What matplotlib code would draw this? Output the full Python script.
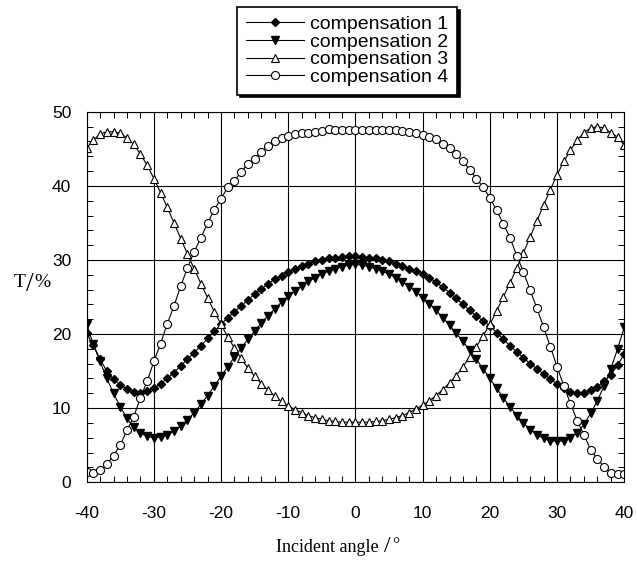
import matplotlib.pyplot as plt
from matplotlib.ticker import MultipleLocator
import numpy as np

# incident angle, one point per degree
angle = list(range(-40, 41))

comp1 = [20.1, 18.5, 16.6, 15.0, 13.9, 13.1, 12.6, 12.2, 12.1, 12.3,
         12.7, 13.3, 14.0, 14.8, 15.7, 16.6, 17.5, 18.4, 19.4, 20.4,
         21.3, 22.2, 23.0, 23.8, 24.6, 25.4, 26.1, 26.8, 27.4, 27.9,
         28.4, 28.8, 29.2, 29.5, 29.8, 30.0, 30.2, 30.3, 30.4, 30.5,
         30.5,
         30.4, 30.3, 30.2, 30.0, 29.8, 29.5, 29.2, 28.8, 28.5,
         28.1, 27.6, 27.0, 26.3, 25.6, 24.8, 24.0, 23.2, 22.4, 21.8,
         21.1, 20.2, 19.3, 18.4, 17.6, 16.8, 16.0, 15.3, 14.6, 13.9,
         13.3, 12.7, 12.2, 12.0, 12.1, 12.4, 12.9, 13.6, 14.5, 15.8,
         17.3]

comp2 = [21.3, 18.6, 16.3, 14.0, 12.0, 10.2, 8.6, 7.4, 6.6, 6.2,
         6.0, 6.1, 6.4, 6.9, 7.6, 8.4, 9.4, 10.5, 11.7, 13.0,
         14.3, 15.6, 16.9, 18.1, 19.3, 20.4, 21.5, 22.5, 23.4, 24.3,
         25.1, 25.8, 26.5, 27.1, 27.6, 28.1, 28.5, 28.8, 29.1, 29.3,
         29.4,
         29.3, 29.1, 28.8, 28.5, 28.1, 27.6, 27.0, 26.4, 25.7,
         24.9, 24.1, 23.2, 22.2, 21.2, 20.1, 19.0, 17.8, 16.6, 15.3,
         14.0, 12.7, 11.4, 10.2, 9.0, 8.0, 7.1, 6.4, 5.9, 5.6,
         5.5, 5.6, 6.0, 6.7, 7.8, 9.3, 11.0, 13.0, 15.3, 18.0,
         20.9]

comp3 = [45.1, 46.2, 47.0, 47.3, 47.3, 47.1, 46.5, 45.6, 44.3, 42.8,
         41.0, 39.1, 37.1, 35.0, 32.9, 30.8, 28.8, 26.8, 24.9, 23.0,
         21.3, 19.6, 18.1, 16.7, 15.4, 14.3, 13.3, 12.4, 11.6, 10.9,
         10.3, 9.8, 9.4, 9.0, 8.7, 8.5, 8.3, 8.2, 8.1, 8.1,
         8.1,
         8.1, 8.1, 8.2, 8.3, 8.5, 8.7, 9.0, 9.4, 9.9,
         10.4, 11.0, 11.7, 12.5, 13.4, 14.4, 15.6, 16.9, 18.3, 19.8,
         21.3, 23.1, 25.0, 26.9, 28.9, 31.0, 33.1, 35.3, 37.4, 39.5,
         41.5, 43.3, 44.8, 46.2, 47.2, 47.8, 48.0, 47.8, 47.2, 46.6,
         45.5]

comp4 = [1.4, 1.25, 1.6, 2.4, 3.6, 5.0, 7.0, 8.8, 11.4, 13.6,
         16.3, 18.7, 21.4, 23.8, 26.5, 28.9, 31.1, 33.0, 35.0, 36.8,
         38.3, 39.8, 40.7, 41.9, 43.0, 43.7, 44.6, 45.4, 46.1, 46.5,
         46.8, 47.0, 47.2, 47.2, 47.3, 47.4, 47.7, 47.5, 47.6, 47.6,
         47.6,
         47.6, 47.5, 47.6, 47.5, 47.5, 47.5, 47.4, 47.3, 47.2,
         46.9, 46.6, 46.3, 45.7, 45.1, 44.3, 43.3, 42.2, 41.0, 39.8,
         38.4, 36.7, 34.9, 33.0, 30.6, 28.4, 25.9, 23.5, 20.9, 18.3,
         15.6, 13.0, 10.6, 8.3, 6.4, 4.4, 3.1, 2.1, 1.25, 1.1,
         1.1]

labels = ['compensation 1', 'compensation 2', 'compensation 3', 'compensation 4']
xticks = list(range(-40, 41, 10))
yticks = list(range(0, 51, 10))

fig = plt.figure(figsize=(6.37, 5.62), dpi=100)
ax = fig.add_axes([0.136, 0.142, 0.844, 0.659])

ax.plot(angle, comp1, '-', color='black', lw=0.8, marker='D', ms=4,
        mfc='black', mec='black', label=labels[0])
ax.plot(angle, comp2, '-', color='black', lw=0.8, marker='v', ms=5.8,
        mfc='black', mec='black', label=labels[1])
ax.plot(angle, comp3, '-', color='black', lw=0.8, marker='^', ms=5.8,
        mfc='white', mec='black', mew=0.8, label=labels[2])
ax.plot(angle, comp4, '-', color='black', lw=0.8, marker='o', ms=5.8,
        mfc='white', mec='black', mew=0.8, label=labels[3])

ax.set_xlim(-40, 40)
ax.set_ylim(0, 50)
ax.xaxis.set_minor_locator(MultipleLocator(2))
ax.yaxis.set_minor_locator(MultipleLocator(2))
ax.set_xticks(xticks)
ax.set_xticklabels([str(v) for v in xticks], family='Liberation Sans')
ax.set_yticks(yticks)
ax.set_yticklabels([str(v) for v in yticks], family='Liberation Sans')
ax.grid(True, which='major', color='black', lw=0.8)
ax.set_axisbelow(True)

ax.tick_params(which='both', direction='in', top=True, right=True)
ax.tick_params(which='major', length=0, labelsize=12.5, colors='black')
ax.tick_params(which='minor', length=4, width=0.7)
ax.tick_params(axis='x', which='major', pad=17)
ax.tick_params(axis='y', which='major', pad=11)

for s in ax.spines.values():
    s.set_linewidth(0.8)

# axis titles in a serif face, with the tall slash of the original
fig.text(0.602, 0.025, 'Incident angle ', ha='right', va='center',
         family='Liberation Serif', fontsize=13)
fig.text(0.608, 0.027, '/', ha='center', va='center',
         family='Liberation Serif', fontsize=17)
fig.text(0.615, 0.029, '°', ha='left', va='center',
         family='Liberation Serif', fontsize=13)

fig.text(0.040, 0.497, 'T', ha='right', va='center',
         family='Liberation Serif', fontsize=14)
fig.text(0.047, 0.494, '/', ha='center', va='center',
         family='Liberation Serif', fontsize=20)
fig.text(0.054, 0.497, '%', ha='left', va='center',
         family='Liberation Serif', fontsize=14)

leg = fig.legend(loc='upper center', bbox_to_anchor=(0.545, 0.988),
                 prop={'family': 'Liberation Sans', 'size': 14},
                 frameon=True, fancybox=False,
                 shadow={'color': 'black', 'alpha': 1},
                 edgecolor='black', handlelength=3.0, handletextpad=0.3,
                 labelspacing=0.0, borderpad=0.45, borderaxespad=0)
leg.get_frame().set_linewidth(1.2)

fig.savefig('out.png', dpi=100)
